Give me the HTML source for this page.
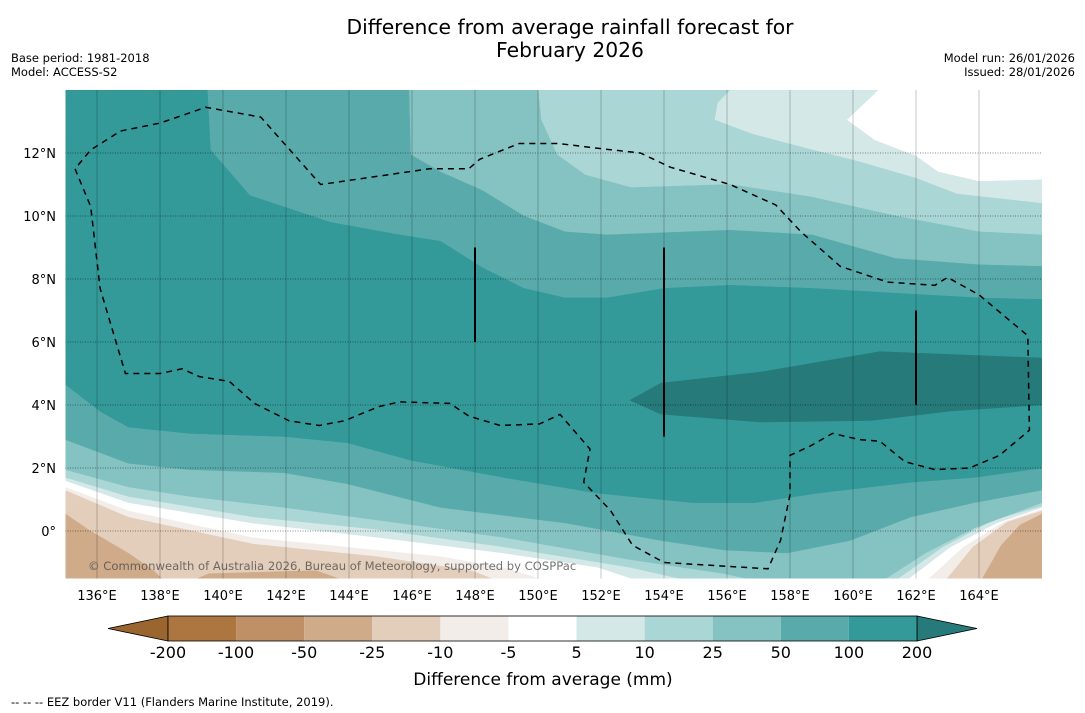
<!DOCTYPE html>
<html><head><meta charset="utf-8">
<style>
body{margin:0;background:#fff;}
svg{display:block;font-family:"DejaVu Sans","Liberation Sans",sans-serif;}
</style></head>
<body>
<svg id="chart" width="1085" height="713" viewBox="0 0 1085 713" xmlns="http://www.w3.org/2000/svg">
<rect width="1085" height="713" fill="#fff"/>
<text x="570" y="34" font-size="20.3" text-anchor="middle">Difference from average rainfall forecast for</text>
<text x="570" y="57" font-size="20.3" text-anchor="middle">February 2026</text>
<text x="11" y="62" font-size="11.5">Base period: 1981-2018</text>
<text x="11" y="76" font-size="11.5">Model: ACCESS-S2</text>
<text x="1075" y="62" font-size="11.5" text-anchor="end">Model run: 26/01/2026</text>
<text x="1075" y="76" font-size="11.5" text-anchor="end">Issued: 28/01/2026</text>
<defs><clipPath id="mapclip"><rect x="65.5" y="90" width="976.5" height="488.5"/></clipPath></defs>
<g id="map" clip-path="url(#mapclip)"></g>
<g id="axes"></g>
<g id="cbar"></g>
<text x="543" y="685" font-size="17" text-anchor="middle">Difference from average (mm)</text>
<text x="11" y="706" font-size="11.5">--  --  -- EEZ border V11 (Flanders Marine Institute, 2019).</text>
</svg>
<script>
const lonTicks=[136,138,140,142,144,146,148,150,152,154,156,158,160,162,164];
const latTicks=[0,2,4,6,8,10,12];
const cbLevels=["-200","-100","-50","-25","-10","-5","5","10","25","50","100","200"];
const cbColors=["#ad7540","#bf8f66","#cfab8a","#e3cebb","#f2ede8","#ffffff","#d4e8e8","#abd6d6","#85c2c2","#59abab","#339999"];
// contour boundaries [lon,lat]
const brownLeft=[[135,0.55],[135.8,0],[137,-0.7],[137.8,-1.25],[138.15,-1.6],[135,-1.6]];
const brownMid=[[138.95,-1.6],[139.55,-1.35],[142.95,-1.25],[143.95,-1.6]];
const brownRight=[[164.05,-1.6],[164.7,-0.45],[165.3,0.2],[166,0.55],[166,-1.6]];
const botM10=[[135,1.3],[137,0.45],[140.95,-0.4],[144.9,-0.8],[147.9,-1.25],[148.8,-1.6],[162.9,-1.6],[163.8,-0.5],[164.9,0.3],[166,0.65]];
const botM5=[[135,1.4],[137,0.65],[140.95,-0.2],[143.95,-0.5],[146.9,-0.8],[148.9,-1.15],[150.4,-1.6],[162.3,-1.6],[163.5,-0.5],[164.8,0.3],[166,0.7]];
const top5=[[160.8,14],[159.8,13.05],[160.7,12.4],[162,11.9],[162.7,11.4],[164,11.1],[166,11.15]];
const bot5=[[135,1.6],[137,0.9],[140.95,0.25],[144.9,-0.2],[148.9,-0.7],[151.9,-1.15],[153.25,-1.6],[161.65,-1.6],[163.1,-0.5],[164.55,0.25],[166,0.75]];
const top10=[[156.1,14],[155.7,13.6],[155.6,13.05],[156.8,12.6],[158.7,12.1],[160.1,11.75],[162,11.2],[163.3,10.7],[166,10.4]];
const bot10=[[135,1.7],[137,1.1],[140.95,0.45],[144.9,0.05],[148.9,-0.5],[152.9,-1.15],[154.9,-1.6],[161.3,-1.6],[162.85,-0.5],[164.45,0.35],[166,0.8]];
const top25=[[150,14],[150.1,13.05],[150.6,11.95],[151.5,11.3],[152.95,10.9],[156.1,11],[158.7,10.6],[161.35,10],[164,9.5],[166,9.4]];
const bot25=[[135,1.95],[137,1.4],[138.95,1.1],[141.95,0.75],[144.9,0.35],[148.9,-0.2],[152.9,-0.9],[155.9,-1.35],[157.05,-1.6],[160.9,-1.6],[162.3,-0.7],[163.85,0.1],[166,0.9]];
const top50=[[145.9,14],[145.95,11.95],[146.9,11.4],[148.25,10.8],[149.55,10],[150.85,9.5],[152.2,9.4],[156.1,9.55],[158.7,9.4],[161.35,8.65],[164,8.45],[166,8.4]];
const bot50=[[135,2.9],[137,2.15],[138.95,1.95],[141.95,1.85],[143.95,1.5],[146.9,0.75],[150.9,0.25],[153.9,-0.3],[155.9,-0.6],[157.9,-0.7],[159.9,-0.3],[161.85,0.45],[163.85,0.9],[166,1.3]];
const top100=[[139.5,14],[139.6,12.1],[140.85,10.65],[143.4,9.8],[145.6,9.4],[146.9,9.2],[148.25,8.35],[149.55,7.7],[150.85,7.4],[152.2,7.4],[154,7.7],[156.1,7.8],[158.7,7.7],[161.35,7.55],[164,7.4],[166,7.35]];
const bot100=[[135,4.65],[136.1,3.8],[137,3.3],[138.95,3.1],[141.95,3],[143.95,2.8],[145.95,2.25],[148.9,1.7],[151.9,1.2],[154.9,0.9],[156.9,0.9],[158.85,1.2],[161.85,1.55],[163.85,1.7],[166,2]];
const patch200=[[152.9,4.15],[153.9,4.7],[157.05,5.05],[160.85,5.7],[166,5.5],[166,4],[163.1,3.8],[160.55,3.5],[157.05,3.45],[153.9,3.7]];
const eez=[[135.3,11.5],[135.8,10.3],[136.1,7.7],[136.9,5],[138,5],[138.7,5.15],[139.25,4.9],[140.2,4.75],[141,4.05],[142.1,3.5],[143.05,3.35],[143.85,3.5],[144.95,3.95],[145.6,4.1],[147.2,4.05],[147.8,3.65],[148.8,3.35],[150.05,3.4],[150.7,3.7],[151.65,2.6],[151.45,1.55],[152.3,0.65],[153,-0.45],[154,-1],[157.3,-1.2],[157.7,-0.3],[158,1.15],[158,2.4],[158.65,2.7],[159.35,3.1],[160.2,2.9],[160.85,2.85],[161.65,2.2],[162.6,1.95],[163.7,2],[164.65,2.4],[165.6,3.2],[165.55,6.2],[164,7.5],[163,8.05],[162.6,7.8],[161.1,7.9],[159.6,8.4],[158.35,9.5],[157.55,10.35],[156.1,11],[154.2,11.55],[153.25,12],[151.9,12.15],[150.65,12.3],[149.4,12.3],[148.15,11.8],[147.8,11.5],[146.55,11.5],[143.1,11],[141.2,13.14],[139.45,13.45],[138,12.95],[136.75,12.7],[135.8,12.1]];
const posts=[[148,6,9],[154,3,9],[162,4,7]];

const X=lon=>65.5+(lon-135)*31.5, Y=lat=>531-lat*31.5;
const NS="http://www.w3.org/2000/svg";
const map=document.getElementById('map'), axes=document.getElementById('axes'), cbar=document.getElementById('cbar');
function mk(tag,parent,attrs){const e=document.createElementNS(NS,tag);for(const k in attrs)e.setAttribute(k,attrs[k]);parent.appendChild(e);return e;}
const pts=a=>a.map(p=>X(p[0]).toFixed(1)+','+Y(p[1]).toFixed(1));
function region(top,bot,color,name){
  let P=[];
  if(top){P.push(X(135)+','+Y(14));P=P.concat(pts(top));}
  else{P.push(X(135)+','+Y(14));P.push(X(166)+','+Y(14));}
  P=P.concat(pts(bot.slice().reverse()));
  const e=mk('polygon',map,{points:P.join(' '),fill:color,stroke:color,'stroke-width':0.5});
  
  
}
const bg=mk('rect',map,{x:65.5,y:90,width:977,height:489,fill:'#e3cebb'});


[brownLeft,brownMid.concat([[143.95,-1.6],[138.95,-1.6]]),brownRight].forEach(a=>{
  const e=mk('polygon',map,{points:pts(a).join(' '),fill:'#cfab8a'});
  
  
});
region(null,botM10,'#f2ede8','band-minus10-minus5');
region(null,botM5,'#ffffff','band-minus5-5');
region(top5,bot5,'#d4e8e8','band-5-10');
region(top10,bot10,'#abd6d6','band-10-25');
region(top25,bot25,'#85c2c2','band-25-50');
region(top50,bot50,'#59abab','band-50-100');
region(top100,bot100,'#339999','band-100-200');
const p2=mk('polygon',map,{points:pts(patch200).join(' '),fill:'#267a7a'});


lonTicks.forEach(l=>{
  const g=mk('line',map,{x1:X(l),x2:X(l),y1:90,y2:579,stroke:'rgba(0,0,0,0.22)','stroke-width':1});
  
  
  const t=mk('text',axes,{x:X(l),y:600,'font-size':13,'text-anchor':'middle'});t.textContent=l+'°E';
  
  
});
latTicks.forEach(l=>{
  const g=mk('line',map,{x1:65,x2:1042,y1:Y(l),y2:Y(l),stroke:'rgba(0,0,0,0.45)','stroke-width':1,'stroke-dasharray':'1,1.5'});
  
  
  const t=mk('text',axes,{x:56,y:Y(l)+5,'font-size':13,'text-anchor':'end'});t.textContent=l===0?'0°':l+'°N';
  
  
});
const ez=mk('polygon',map,{points:pts(eez).join(' '),fill:'none',stroke:'#000','stroke-width':1.5,'stroke-dasharray':'6,5'});


posts.forEach(p=>{
  const e=mk('line',map,{x1:X(p[0]),x2:X(p[0]),y1:Y(p[1]),y2:Y(p[2]),stroke:'#000','stroke-width':2});
  
  
});
const cp=mk('text',map,{x:88,y:570,'font-size':11.6,fill:'rgba(70,70,70,0.75)'});cp.textContent='© Commonwealth of Australia 2026, Bureau of Meteorology, supported by COSPPac';


const cx0=168,cx1=917,cy=616,ch=25,bw=(cx1-cx0)/cbColors.length;
const lt=mk('polygon',cbar,{points:`108,${cy+ch/2} ${cx0},${cy} ${cx0},${cy+ch}`,fill:'#9b6530',stroke:'#000','stroke-width':0.8});


const rt=mk('polygon',cbar,{points:`977,${cy+ch/2} ${cx1},${cy} ${cx1},${cy+ch}`,fill:'#267a7a',stroke:'#000','stroke-width':0.8});


cbColors.forEach((c,i)=>{
  const r=mk('rect',cbar,{x:cx0+i*bw,y:cy,width:bw,height:ch,fill:c});
  
  
});
mk('rect',cbar,{x:cx0,y:cy,width:cx1-cx0,height:ch,fill:'none',stroke:'#000','stroke-width':0.8});
cbLevels.forEach((v,i)=>{
  const t=mk('text',cbar,{x:cx0+i*bw,y:658,'font-size':16,'text-anchor':'middle'});t.textContent=v;
  
  
});
</script>
</body></html>
